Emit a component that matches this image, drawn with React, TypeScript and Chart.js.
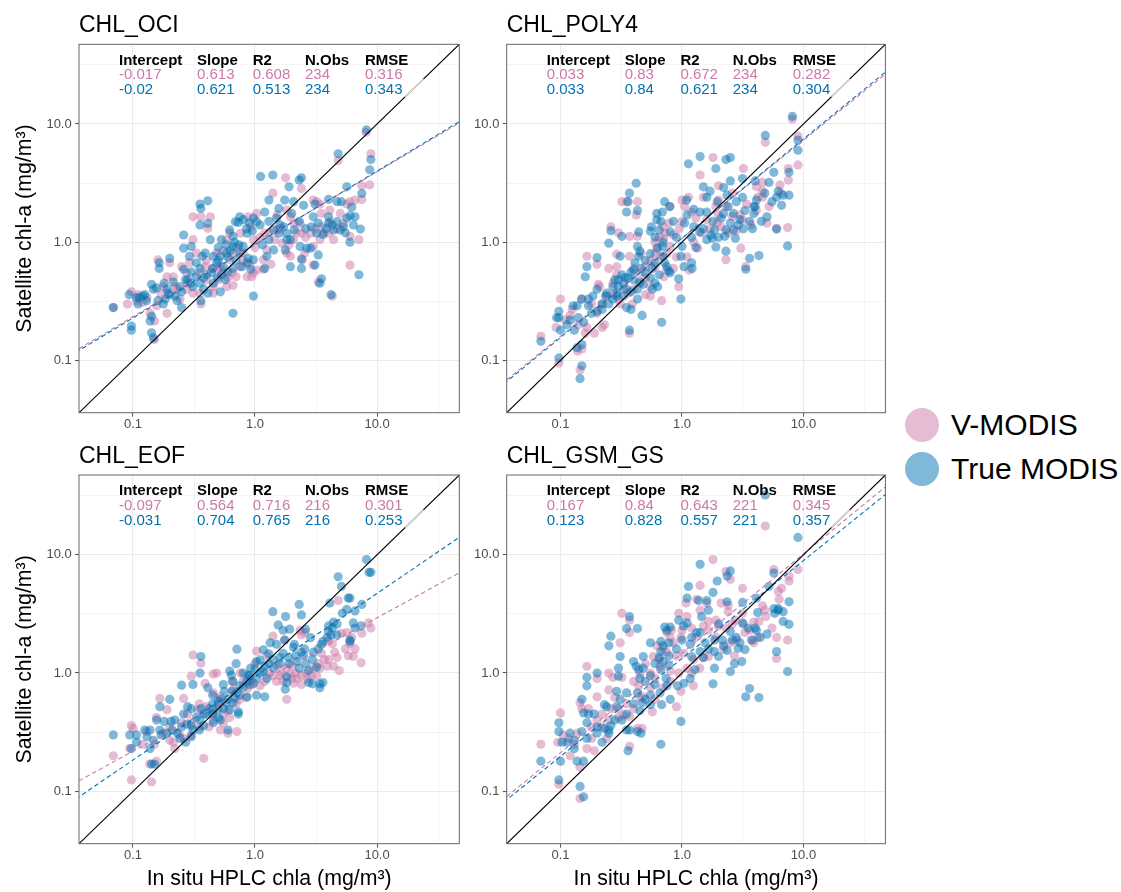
import React, { useEffect, useRef } from 'react';
import { Chart, registerables } from 'chart.js';

Chart.register(...registerables);

const FONT = "'Liberation Sans', Arial, Helvetica, sans-serif";
Chart.defaults.font.family = FONT;

// ---------- data ----------
const SERIES_NAMES = ['V-MODIS', 'True MODIS'];
const PANEL_TITLES = ['CHL_OCI', 'CHL_POLY4', 'CHL_EOF', 'CHL_GSM_GS'];
const X_TITLE = 'In situ HPLC chla (mg/m³)';
const Y_TITLE = 'Satellite chl-a (mg/m³)';

const AXIS_MIN = 0.0361;
const AXIS_MAX = 47.2;
const MAJOR_TICKS = [0.1, 1, 10];
const MAJOR_LABELS = ['0.1', '1.0', '10.0'];
const MINOR_TICKS = [0.3162, 3.162, 31.62];

const STAT_HEADERS = ['Intercept', 'Slope', 'R2', 'N.Obs', 'RMSE'];
const OCI_STATS_VM = ['-0.017', '0.613', '0.608', '234', '0.316'];
const OCI_STATS_TM = ['-0.02', '0.621', '0.513', '234', '0.343'];
const POLY4_STATS_VM = ['0.033', '0.83', '0.672', '234', '0.282'];
const POLY4_STATS_TM = ['0.033', '0.84', '0.621', '234', '0.304'];
const EOF_STATS_VM = ['-0.097', '0.564', '0.716', '216', '0.301'];
const EOF_STATS_TM = ['-0.031', '0.704', '0.765', '216', '0.253'];
const GSM_STATS_VM = ['0.167', '0.84', '0.643', '221', '0.345'];
const GSM_STATS_TM = ['0.123', '0.828', '0.557', '221', '0.357'];

const OCI_VM = [[8.1,8.5],[4.8,4.9],[8.9,5.6],[8.7,3.05],[1.78,3.5],[2.4,2.85],[1.4,2.6],[7.5,3.0],[7.5,2.3],[3.2,2.2],[6.0,2.2],[6.0,1.12],[7.1,1.05],[6.0,0.64],[3.0,2.27],[3.4,2.1],[1.82,1.87],[1.52,1.7],[1.03,1.75],[0.88,1.64],[0.76,1.19],[0.92,1.35],[0.8,0.81],[0.75,0.62],[0.455,0.42],[0.585,0.42],[0.66,0.43],[0.94,0.51],[1.03,0.58],[1.17,0.59],[1.25,0.86],[1.17,0.71],[1.95,1.64],[2.34,1.44],[2.07,1.05],[3.0,0.92],[3.5,1.35],[3.4,1.05],[3.5,1.75],[4.1,1.87],[4.1,1.49],[1.82,0.81],[1.95,0.76],[2.55,0.81],[3.0,0.64],[3.3,0.46],[4.3,0.35],[2.45,0.71],[0.069,0.28],[0.097,0.38],[0.09,0.3],[0.107,0.32],[0.16,0.71],[0.2,0.67],[0.177,0.42],[0.156,0.29],[0.19,0.25],[0.15,0.215],[0.15,0.15],[0.214,0.51],[0.23,0.4],[0.275,0.4],[0.243,0.33],[0.29,0.67],[0.31,1.05],[0.31,1.64],[0.36,1.64],[0.43,1.64],[0.41,1.31],[0.39,0.62],[0.485,0.81],[0.585,1.05],[0.354,0.37],[0.36,0.3],[0.455,0.37],[0.5,0.59],[0.52,0.62],[0.62,0.71],[0.7,0.51],[0.86,0.51],[0.97,0.55],[0.4,0.48],[0.31,0.37],[0.275,0.55],[0.19,0.51],[0.25,0.62],[0.33,0.81],[0.12,0.31],[0.138,0.25],[0.66,0.81],[1.52,1.27],[1.66,0.98],[2.07,1.44],[2.4,1.19],[2.85,1.19],[4.4,1.05],[5.0,1.75],[5.65,2.1],[6.6,2.27],[4.0,1.19],[1.2,1.19],[0.97,1.05],[0.5,0.48],[0.55,0.55],[0.6,0.5],[0.65,0.55],[0.8,0.7],[0.72,0.9],[0.62,1.2],[0.55,0.85],[0.45,0.6],[0.4,0.7],[0.35,0.55],[0.28,0.45],[0.22,0.42],[0.17,0.36],[0.13,0.34],[0.11,0.36],[1.0,0.9],[1.1,1.1],[1.3,1.2],[1.6,1.3],[2.2,1.2],[2.6,1.1],[3.1,1.3],[3.7,1.2],[4.7,1.3],[5.3,1.45],[1.45,1.05],[1.9,0.95],[0.9,0.65],[1.35,0.65]];
const OCI_TM = [[8.2,8.9],[4.8,5.6],[8.9,5.0],[8.7,4.1],[1.11,3.6],[1.4,3.7],[2.4,3.5],[2.3,3.35],[1.9,2.94],[5.65,2.94],[7.5,2.58],[4.0,2.3],[3.1,2.1],[4.7,2.2],[5.1,2.2],[6.2,1.97],[6.0,1.67],[6.6,1.64],[5.65,1.6],[6.4,1.4],[7.3,1.29],[6.0,1.0],[7.1,0.53],[1.75,2.27],[2.07,2.2],[2.5,2.05],[1.3,2.27],[1.57,1.93],[1.2,1.8],[1.03,1.49],[0.97,1.6],[0.75,1.64],[0.73,1.47],[0.69,1.49],[0.62,1.27],[0.66,1.12],[0.86,1.19],[0.74,0.95],[0.66,0.92],[0.88,0.73],[0.97,0.71],[0.66,0.6],[0.6,0.56],[0.53,0.53],[0.49,0.5],[0.92,0.59],[1.2,0.6],[1.25,0.76],[1.42,0.86],[0.97,0.35],[0.66,0.25],[2.1,1.27],[1.82,1.19],[1.57,1.19],[1.82,1.05],[2.34,0.92],[2.66,0.89],[3.2,1.19],[4.0,1.44],[4.4,1.27],[5.0,1.27],[3.6,1.16],[3.0,1.64],[4.0,1.64],[4.7,1.49],[1.95,0.62],[2.4,0.6],[1.77,0.86],[2.4,0.72],[2.85,0.89],[3.3,0.78],[3.1,0.64],[3.5,0.49],[3.4,0.45],[4.2,0.36],[0.069,0.28],[0.093,0.36],[0.107,0.34],[0.113,0.34],[0.125,0.36],[0.129,0.32],[0.142,0.44],[0.147,0.4],[0.156,0.41],[0.164,0.67],[0.164,0.6],[0.2,0.73],[0.19,0.4],[0.184,0.33],[0.16,0.32],[0.177,0.3],[0.142,0.236],[0.138,0.215],[0.097,0.195],[0.097,0.18],[0.142,0.171],[0.147,0.155],[0.214,0.46],[0.243,0.42],[0.26,0.59],[0.27,0.48],[0.31,0.42],[0.25,0.28],[0.23,0.32],[0.195,0.37],[0.28,0.48],[0.3,0.56],[0.26,0.89],[0.26,1.15],[0.29,0.76],[0.3,0.92],[0.354,2.1],[0.36,1.93],[0.41,2.24],[0.354,1.4],[0.41,1.44],[0.43,1.05],[0.39,0.81],[0.37,0.76],[0.33,0.67],[0.354,0.6],[0.4,0.53],[0.455,0.76],[0.485,0.67],[0.52,0.76],[0.53,1.05],[0.33,0.51],[0.354,0.45],[0.38,0.4],[0.36,0.32],[0.41,0.37],[0.52,0.38],[0.455,0.45],[0.57,0.48],[0.75,0.81],[0.86,0.67],[0.585,0.81],[1.42,1.27],[1.71,1.35],[1.95,1.05],[0.45,0.6],[0.5,0.7],[0.55,0.62],[0.6,0.75],[0.63,0.85],[0.7,0.7],[0.78,0.62],[0.8,0.92],[0.68,1.0],[0.58,0.95],[0.5,0.9],[0.44,0.55],[0.38,0.5],[0.3,0.45],[0.25,0.38],[0.22,0.35],[0.18,0.45],[0.2,0.36],[0.12,0.35],[0.11,0.3],[0.85,1.3],[0.95,1.25],[1.1,1.4],[1.3,1.5],[1.6,1.4],[2.3,1.5],[2.6,1.3],[2.9,1.35],[3.3,1.45],[3.8,1.3],[4.3,1.4],[5.3,1.35],[5.5,1.2],[1.15,0.95],[1.3,1.05],[0.9,1.45],[0.8,1.55],[1.5,1.6],[2.0,1.75]];

const POLY4_VM = [[8.1,11.0],[4.85,7.0],[9.0,7.9],[9.0,4.5],[1.8,5.2],[1.41,3.7],[3.2,4.2],[7.5,4.2],[7.5,3.35],[6.4,3.05],[4.6,3.2],[4.6,2.7],[4.1,2.95],[4.1,1.85],[4.6,2.4],[5.0,1.45],[6.0,1.31],[7.4,1.33],[2.0,2.27],[2.6,2.6],[2.0,3.0],[1.5,2.4],[1.13,2.4],[1.05,2.0],[1.0,2.27],[1.9,2.0],[2.3,2.0],[3.15,1.55],[2.1,1.35],[1.95,1.45],[0.95,1.3],[1.35,0.89],[1.15,0.58],[2.3,0.71],[3.05,0.89],[3.35,0.62],[0.8,2.0],[0.7,1.35],[0.73,1.2],[0.71,1.08],[0.78,1.45],[0.8,0.92],[0.75,0.8],[0.6,1.0],[0.66,0.76],[0.71,0.51],[0.5,0.5],[0.45,0.55],[0.46,0.8],[0.43,1.12],[0.37,0.76],[0.29,0.79],[0.26,1.35],[0.3,1.2],[0.37,1.12],[0.32,2.2],[0.35,2.2],[0.43,2.2],[0.42,1.7],[0.29,0.62],[0.29,0.53],[0.25,0.6],[0.36,0.37],[0.3,0.33],[0.31,0.3],[0.39,0.3],[0.21,0.42],[0.205,0.44],[0.165,0.76],[0.2,0.65],[0.18,0.3],[0.15,0.33],[0.125,0.27],[0.1,0.33],[0.092,0.19],[0.11,0.22],[0.165,0.19],[0.16,0.17],[0.19,0.17],[0.23,0.2],[0.22,0.19],[0.069,0.16],[0.097,0.095],[0.15,0.125],[0.138,0.12],[0.145,0.083],[0.37,0.17],[0.68,0.32],[0.94,0.42],[0.75,0.58],[0.85,0.6],[0.55,0.42],[0.5,0.36],[0.6,0.62],[0.62,0.9],[1.2,1.8],[1.6,1.55],[2.6,1.65],[3.4,2.1],[3.7,1.4],[2.8,1.25],[1.25,1.0],[1.1,0.75],[0.55,0.35],[0.27,0.45],[0.24,0.35],[0.12,0.24],[0.5,0.62],[0.55,0.7],[0.45,0.45],[0.4,0.4],[0.33,0.4],[0.27,0.36],[0.22,0.3],[0.2,0.25],[0.14,0.2],[0.6,0.8],[0.65,1.1],[0.85,1.15],[1.0,1.5],[1.3,1.6],[1.45,1.2],[1.7,1.3],[2.4,1.2],[3.0,1.7],[4.2,2.4],[5.2,2.0],[6.5,2.6],[2.0,1.7],[0.9,0.75],[0.4,0.6]];
const POLY4_TM = [[8.1,11.6],[4.85,8.0],[9.0,7.3],[9.0,6.0],[1.41,5.3],[1.13,4.6],[1.9,4.2],[2.3,5.0],[2.5,5.2],[5.7,3.9],[7.6,3.9],[6.2,2.7],[6.0,2.4],[6.8,2.5],[7.6,2.5],[6.6,2.05],[5.2,3.2],[4.0,3.3],[4.1,2.27],[4.0,2.0],[5.0,1.64],[6.0,1.29],[7.4,0.93],[3.15,3.45],[3.15,2.4],[2.5,3.3],[2.2,2.9],[2.35,2.5],[1.5,2.94],[1.7,2.7],[1.6,2.4],[1.09,2.27],[1.41,1.8],[1.6,1.8],[2.2,1.75],[2.65,1.75],[3.3,1.85],[3.9,2.0],[3.9,1.75],[3.0,1.55],[2.65,1.27],[2.75,1.08],[2.3,1.27],[2.25,1.12],[1.8,1.5],[1.85,1.27],[1.72,1.15],[1.78,1.08],[1.9,0.91],[1.4,1.22],[1.25,1.35],[1.05,1.45],[1.3,0.9],[1.0,0.92],[0.98,0.76],[1.04,0.62],[1.2,0.67],[1.21,0.6],[2.3,0.84],[3.6,0.73],[4.3,0.77],[3.35,0.59],[0.62,1.75],[0.69,1.8],[0.72,2.2],[0.79,2.0],[0.67,1.5],[0.62,1.55],[0.56,1.35],[0.65,1.27],[0.8,1.22],[0.69,0.92],[0.63,0.89],[0.6,0.67],[0.57,0.6],[0.75,0.62],[0.78,0.57],[0.65,0.53],[0.6,0.45],[0.63,0.42],[0.57,0.4],[0.48,0.44],[0.44,0.76],[0.45,0.84],[0.41,0.67],[0.46,0.6],[0.4,0.48],[0.36,0.5],[0.38,0.56],[0.43,0.4],[0.55,1.24],[0.44,1.22],[0.43,0.92],[0.31,0.76],[0.26,1.25],[0.25,0.98],[0.32,1.12],[0.37,2.6],[0.36,2.2],[0.35,1.8],[0.43,1.85],[0.42,3.15],[0.28,0.48],[0.3,0.48],[0.32,0.53],[0.34,0.5],[0.35,0.4],[0.27,0.42],[0.29,0.35],[0.29,0.37],[0.33,0.35],[0.35,0.28],[0.38,0.27],[0.47,0.24],[0.43,0.33],[0.24,0.37],[0.235,0.35],[0.2,0.4],[0.2,0.74],[0.165,0.62],[0.16,0.51],[0.17,0.33],[0.185,0.35],[0.2,0.26],[0.22,0.3],[0.17,0.29],[0.149,0.33],[0.137,0.29],[0.127,0.29],[0.12,0.22],[0.113,0.2],[0.097,0.26],[0.097,0.23],[0.093,0.23],[0.1,0.18],[0.13,0.18],[0.155,0.21],[0.069,0.145],[0.097,0.105],[0.137,0.128],[0.15,0.136],[0.15,0.09],[0.145,0.07],[0.37,0.18],[0.68,0.21],[0.98,0.33],[0.94,0.49],[0.8,0.55],[0.72,0.67],[0.7,0.76],[2.1,1.6],[2.4,2.0],[1.95,2.2],[3.6,1.5],[4.5,1.5],[2.9,1.4],[0.5,0.7],[0.55,0.8],[0.5,0.55],[0.55,0.5],[0.4,0.58],[0.33,0.45],[0.3,0.42],[0.25,0.3],[0.27,0.33],[0.22,0.27],[0.18,0.25],[0.14,0.23],[0.6,1.1],[0.7,1.0],[0.85,1.5],[0.9,1.1],[1.1,1.7],[1.25,1.9],[1.5,1.3],[1.6,1.05],[2.0,1.1],[2.5,1.45],[3.2,1.3],[3.8,1.3],[4.8,2.6],[5.5,2.2],[2.8,2.2],[1.2,1.1],[0.38,0.38],[0.45,0.46]];

const EOF_VM = [[4.8,4.1],[8.5,2.65],[8.9,2.4],[7.5,2.17],[5.65,2.2],[5.1,2.17],[4.0,1.87],[4.3,1.77],[6.0,1.77],[6.6,1.6],[5.8,1.4],[6.4,1.38],[7.4,1.22],[4.9,1.05],[4.4,1.14],[3.9,1.14],[3.5,1.47],[3.4,1.1],[1.4,2.05],[1.75,1.9],[1.03,1.53],[1.25,1.4],[1.52,1.15],[1.66,1.0],[1.95,0.98],[2.15,1.0],[2.4,0.8],[1.82,0.6],[2.55,2.2],[2.4,2.1],[2.34,2.3],[3.0,1.1],[1.61,0.95],[2.07,0.82],[1.1,0.78],[0.92,0.9],[0.76,1.0],[0.88,0.75],[0.66,0.72],[0.52,0.63],[0.485,1.0],[0.455,0.98],[0.31,1.42],[0.36,1.21],[0.3,0.94],[0.39,0.82],[0.455,0.68],[0.4,0.52],[0.34,0.49],[0.455,0.4],[0.52,0.33],[0.6,0.31],[0.71,0.32],[0.62,0.42],[0.26,0.61],[0.25,0.38],[0.19,0.49],[0.166,0.61],[0.156,0.42],[0.177,0.31],[0.214,0.26],[0.22,0.23],[0.13,0.32],[0.1,0.34],[0.097,0.36],[0.094,0.23],[0.069,0.2],[0.097,0.125],[0.142,0.12],[0.137,0.17],[0.156,0.18],[0.38,0.19],[1.8,1.1],[2.0,1.15],[2.6,1.0],[2.9,0.95],[3.2,0.95],[2.2,0.9],[1.3,1.0],[1.5,0.85],[0.55,0.45],[0.5,0.55],[0.35,0.55],[0.28,0.45],[0.24,0.3],[0.3,0.38],[0.12,0.25],[0.2,0.35],[0.7,0.55],[0.85,0.62],[4.5,1.5],[5.5,1.6],[3.7,1.3],[0.6,0.48],[0.55,0.38],[0.45,0.45],[0.42,0.35],[0.35,0.35],[0.3,0.3],[0.26,0.28],[0.2,0.27],[0.15,0.25],[0.8,0.85],[0.95,0.8],[1.2,0.85],[1.4,0.95],[1.7,0.85],[2.0,0.9],[2.4,0.95],[2.7,0.9],[3.3,1.2],[4.0,1.3],[4.7,1.35],[6.2,2.0],[0.65,0.85],[0.75,0.6],[1.0,1.2]];
const EOF_TM = [[8.2,9.1],[8.9,7.1],[8.6,7.1],[4.8,6.5],[5.1,5.4],[4.1,3.9],[5.8,4.3],[6.0,4.3],[5.65,3.45],[6.6,3.35],[7.5,3.8],[6.4,2.65],[6.6,2.4],[6.0,1.9],[6.0,1.85],[7.4,2.5],[4.4,2.7],[4.7,2.6],[4.0,2.5],[4.0,2.25],[4.2,2.1],[3.6,1.85],[3.5,1.75],[4.7,2.1],[1.4,3.3],[2.3,3.8],[2.4,3.1],[1.78,3.0],[1.55,2.55],[1.7,2.3],[1.92,2.35],[2.6,2.35],[2.85,1.99],[1.33,1.8],[1.17,1.57],[1.75,1.9],[2.07,1.65],[2.4,1.5],[2.5,1.4],[2.15,1.4],[1.88,1.35],[1.7,1.47],[1.6,1.35],[1.42,1.1],[1.1,1.29],[1.03,1.25],[1.0,1.08],[1.17,1.03],[0.92,1.1],[0.88,0.96],[1.03,0.91],[0.97,0.82],[1.03,0.65],[1.2,0.63],[2.95,1.3],[3.2,1.12],[2.75,1.05],[2.3,1.1],[1.82,0.93],[1.82,0.83],[1.77,0.73],[2.75,0.83],[2.95,0.81],[3.4,0.81],[3.6,0.83],[3.4,0.75],[0.71,1.59],[0.62,1.04],[0.64,0.96],[0.66,0.85],[0.71,0.68],[0.86,0.63],[0.75,0.78],[0.58,0.56],[0.66,0.56],[0.52,0.6],[0.62,0.49],[0.73,0.45],[0.73,0.47],[0.6,0.33],[0.52,0.4],[0.455,0.38],[0.41,0.75],[0.354,1.0],[0.36,1.38],[0.31,0.8],[0.25,0.79],[0.28,0.52],[0.275,0.37],[0.31,0.33],[0.354,0.4],[0.38,0.36],[0.455,0.49],[0.2,0.6],[0.166,0.52],[0.156,0.4],[0.18,0.39],[0.205,0.39],[0.166,0.33],[0.138,0.33],[0.125,0.33],[0.107,0.3],[0.094,0.3],[0.069,0.3],[0.107,0.26],[0.097,0.23],[0.147,0.27],[0.138,0.23],[0.15,0.17],[0.142,0.17],[0.19,0.31],[0.23,0.31],[0.243,0.28],[0.27,0.26],[0.3,0.29],[0.5,0.5],[0.45,0.55],[0.4,0.45],[0.33,0.42],[0.3,0.5],[0.56,0.7],[0.8,0.75],[0.9,0.8],[1.3,1.2],[1.25,0.9],[0.45,0.65],[0.22,0.4],[0.26,0.45],[0.36,0.5],[2.1,1.75],[2.55,1.6],[1.5,1.75],[4.3,2.4],[5.2,3.2],[0.7,1.2],[0.8,1.0],[0.5,0.42],[0.45,0.45],[0.42,0.5],[0.55,0.5],[0.6,0.6],[0.65,0.7],[0.75,0.65],[0.85,0.85],[0.9,0.95],[0.68,0.62],[0.35,0.33],[0.3,0.36],[0.25,0.35],[0.21,0.33],[0.17,0.3],[0.13,0.29],[1.1,1.0],[1.2,1.15],[1.4,1.3],[1.6,1.2],[1.9,1.2],[2.2,1.25],[2.6,1.2],[3.0,1.5],[3.3,1.6],[3.9,2.0],[1.3,1.45],[0.55,0.8],[0.5,0.58],[0.38,0.45]];

const GSM_VM = [[4.85,17.5],[1.8,9.1],[1.41,5.5],[2.3,7.2],[2.5,6.2],[3.15,5.2],[5.7,7.5],[9.0,7.5],[7.6,6.6],[7.6,6.0],[6.6,5.2],[6.2,4.9],[6.3,4.2],[7.4,1.9],[6.0,2.0],[6.0,1.33],[4.6,3.7],[4.8,3.4],[4.3,2.73],[3.9,2.7],[3.15,3.2],[2.75,2.8],[2.4,3.3],[2.4,3.75],[2.1,3.9],[1.6,3.9],[1.32,4.2],[1.08,3.9],[0.94,3.2],[1.1,3.0],[1.41,3.4],[1.65,2.73],[1.65,2.3],[1.9,2.02],[2.5,1.8],[3.7,1.9],[3.9,1.8],[1.65,1.38],[1.5,1.35],[1.24,1.3],[1.03,1.47],[0.98,2.0],[0.8,2.0],[0.82,2.3],[0.75,2.2],[0.62,1.7],[0.58,1.38],[0.66,1.14],[0.8,1.04],[0.94,1.0],[1.24,0.78],[0.98,0.7],[0.9,0.52],[0.57,0.47],[0.48,0.63],[0.44,0.78],[0.4,0.85],[0.45,0.98],[0.32,0.92],[0.27,0.92],[0.25,1.0],[0.25,0.72],[0.31,1.8],[0.37,2.2],[0.32,3.2],[0.37,2.8],[0.2,0.9],[0.165,1.14],[0.2,0.63],[0.145,0.56],[0.15,0.5],[0.17,0.5],[0.22,0.45],[0.2,0.4],[0.37,0.43],[0.33,0.44],[0.43,0.34],[0.47,0.34],[0.37,0.24],[0.24,0.28],[0.18,0.28],[0.165,0.23],[0.19,0.22],[0.137,0.31],[0.117,0.28],[0.105,0.3],[0.095,0.26],[0.1,0.46],[0.069,0.25],[0.097,0.115],[0.145,0.087],[0.145,0.16],[2.0,2.5],[2.2,1.6],[2.8,1.9],[3.3,2.2],[4.2,2.0],[3.6,2.3],[1.2,2.4],[0.7,1.6],[0.6,0.9],[0.55,0.75],[0.35,0.55],[0.3,0.5],[0.28,0.62],[0.5,1.2],[0.9,1.4],[1.1,1.1],[2.7,1.4],[4.9,3.0],[5.5,2.4],[0.55,1.0],[0.65,1.3],[0.75,1.5],[0.85,1.8],[1.0,2.3],[1.3,2.0],[1.5,2.5],[1.9,2.8],[2.3,2.4],[2.6,2.6],[3.2,2.6],[0.45,0.62],[0.4,0.5],[0.3,0.42],[0.25,0.4],[0.22,0.35],[0.26,0.5],[0.6,0.6],[0.7,0.75],[0.8,0.85],[1.2,1.0],[1.4,1.1],[0.18,0.35],[0.13,0.25],[0.12,0.2]];
const GSM_TM = [[9.0,14.0],[4.85,32],[1.41,8.3],[2.5,7.3],[2.35,6.6],[1.95,6.0],[1.13,5.4],[1.1,4.3],[1.8,4.8],[1.37,4.1],[1.6,4.1],[1.65,3.4],[2.35,4.0],[3.15,3.95],[4.1,4.3],[4.2,3.25],[5.7,3.5],[5.7,7.0],[5.2,5.4],[7.6,4.0],[6.2,3.4],[6.8,3.3],[6.2,3.5],[6.8,2.73],[7.6,2.58],[6.0,1.52],[7.4,1.03],[2.5,2.25],[2.6,1.9],[3.0,1.8],[2.9,1.62],[2.15,1.9],[1.85,1.9],[3.15,2.65],[3.5,2.4],[4.0,2.4],[4.1,2.3],[5.0,2.13],[3.3,1.58],[3.1,1.25],[2.7,1.2],[2.5,1.03],[3.6,0.74],[3.35,0.63],[4.3,0.62],[1.85,1.52],[2.0,1.38],[1.85,1.1],[1.8,0.81],[2.35,1.55],[1.32,2.2],[1.41,2.2],[1.55,1.8],[1.1,2.65],[1.03,2.5],[0.94,2.8],[1.17,1.75],[1.41,1.52],[1.2,1.38],[1.28,1.07],[1.17,0.9],[1.04,0.82],[0.92,0.78],[0.98,0.39],[0.72,2.45],[0.8,2.45],[0.75,2.3],[0.67,1.85],[0.78,1.8],[0.7,1.7],[0.67,1.52],[0.78,1.4],[0.78,1.17],[0.67,1.07],[0.74,0.9],[0.75,0.78],[0.66,0.68],[0.55,1.8],[0.48,1.38],[0.48,1.1],[0.44,1.07],[0.42,1.14],[0.4,1.25],[0.45,0.9],[0.5,0.85],[0.55,0.65],[0.47,0.56],[0.55,0.54],[0.68,0.54],[0.43,0.68],[0.35,0.68],[0.29,0.7],[0.29,0.52],[0.31,0.6],[0.35,0.33],[0.37,0.33],[0.43,0.32],[0.46,0.31],[0.36,0.22],[0.67,0.25],[0.35,2.38],[0.43,2.38],[0.37,3.0],[0.26,2.05],[0.25,1.7],[0.31,1.38],[0.3,1.1],[0.3,0.94],[0.2,1.0],[0.165,0.92],[0.165,0.78],[0.15,0.6],[0.155,0.46],[0.17,0.45],[0.165,0.38],[0.2,0.31],[0.19,0.45],[0.23,0.54],[0.24,0.52],[0.23,0.34],[0.25,0.33],[0.25,0.31],[0.22,0.26],[0.165,0.28],[0.13,0.23],[0.12,0.31],[0.113,0.26],[0.097,0.38],[0.097,0.32],[0.103,0.26],[0.069,0.18],[0.1,0.18],[0.097,0.125],[0.145,0.11],[0.155,0.09],[0.137,0.18],[0.155,0.18],[0.55,0.95],[0.6,1.2],[0.65,1.35],[0.7,1.25],[0.9,1.6],[1.0,1.9],[1.5,1.35],[1.65,1.6],[2.2,1.7],[2.8,2.0],[3.8,1.9],[4.4,2.0],[0.5,0.6],[0.6,0.8],[0.35,0.45],[0.32,0.4],[0.28,0.4],[0.26,0.36],[0.4,0.55],[0.45,0.48],[0.2,0.35],[0.15,0.32],[0.13,0.27],[0.8,0.6],[1.2,2.0],[1.45,3.0],[2.0,2.6],[5.8,3.2]];

// ---------- styles / layout ----------
const PINK = '#CC79A7';
const BLUE = '#0072B2';
const PINK_FILL = 'rgba(204,121,167,0.5)';
const BLUE_FILL = 'rgba(0,114,178,0.5)';
const STAT_COLS = [40, 118, 173.7, 226, 286];
const STAT_ROWS = [20.2, 34.9, 49.9];
const FADED_SPAN = [17, 24]; // faded stretch of the 1:1 line behind the stats label
const DASH = [4.5, 3];

type PanelCfg = {
  title: string; vm: number[][]; tm: number[][]; statsVm: string[]; statsTm: string[];
  left: number; top: number; width: number; height: number;
  pad: { left: number; right: number; top: number; bottom: number };
  yWidth: number; xHeight: number; showY: boolean; showX: boolean;
};

const PANELS: PanelCfg[] = [
  { title: PANEL_TITLES[0], vm: OCI_VM, tm: OCI_TM, statsVm: OCI_STATS_VM, statsTm: OCI_STATS_TM,
    left: 0, top: 0, width: 470, height: 437, pad: { left: 12.8, right: 10.7, top: 44.3, bottom: 0 },
    yWidth: 66.2, xHeight: 24.3, showY: true, showX: false },
  { title: PANEL_TITLES[1], vm: POLY4_VM, tm: POLY4_TM, statsVm: POLY4_STATS_VM, statsTm: POLY4_STATS_TM,
    left: 470, top: 0, width: 420, height: 437, pad: { left: 0, right: 2.7, top: 44.3, bottom: 0 },
    yWidth: 36.7, xHeight: 24.3, showY: false, showX: false },
  { title: PANEL_TITLES[2], vm: EOF_VM, tm: EOF_TM, statsVm: EOF_STATS_VM, statsTm: EOF_STATS_TM,
    left: 0, top: 437, width: 470, height: 455, pad: { left: 12.8, right: 10.7, top: 38, bottom: 0 },
    yWidth: 66.2, xHeight: 48.3, showY: true, showX: true },
  { title: PANEL_TITLES[3], vm: GSM_VM, tm: GSM_TM, statsVm: GSM_STATS_VM, statsTm: GSM_STATS_TM,
    left: 470, top: 437, width: 420, height: 455, pad: { left: 0, right: 2.7, top: 38, bottom: 0 },
    yWidth: 36.7, xHeight: 48.3, showY: false, showX: true },
];

const ALL_TICKS = [...MAJOR_TICKS, ...MINOR_TICKS].sort((a, b) => a - b);
const isMajor = (v: number) => MAJOR_TICKS.some((t) => Math.abs(t - v) / t < 1e-6);
const tickLabel = (v: number) => {
  const i = MAJOR_TICKS.findIndex((t) => Math.abs(t - v) / t < 1e-6);
  return i >= 0 ? MAJOR_LABELS[i] : '';
};

const fitLine = (stats: string[]) => {
  const a = parseFloat(stats[0]);
  const b = parseFloat(stats[1]);
  return [AXIS_MIN, AXIS_MAX].map((x) => ({ x, y: Math.pow(10, a + b * Math.log10(x)) }));
};

function axisOptions(isX: boolean, cfg: PanelCfg) {
  return {
    type: 'logarithmic',
    position: isX ? 'bottom' : 'left',
    min: AXIS_MIN,
    max: AXIS_MAX,
    bounds: 'data',
    afterBuildTicks: (s: any) => {
      s.ticks = ALL_TICKS.map((v) => ({ value: v }));
    },
    afterFit: (s: any) => {
      if (isX) s.height = cfg.xHeight;
      else s.width = cfg.yWidth;
    },
    ticks: {
      autoSkip: false,
      maxRotation: 0,
      minRotation: 0,
      padding: isX ? 0 : 3.3,
      color: '#4D4D4D',
      font: { size: 13, family: FONT },
      callback: (v: any) => tickLabel(Number(v)),
    },
    grid: {
      color: '#EBEBEB',
      lineWidth: (c: any) => (c.tick && isMajor(c.tick.value) ? 1.1 : 0.55),
      drawTicks: true,
      tickLength: 4,
      tickWidth: 1,
      tickColor: (c: any) => (c.tick && isMajor(c.tick.value) ? '#555555' : 'rgba(0,0,0,0)'),
    },
    border: { display: false },
    title: {
      display: isX ? cfg.showX : cfg.showY,
      text: isX ? X_TITLE : Y_TITLE,
      color: '#000',
      font: { size: 21.3, family: FONT },
      padding: 0,
    },
  };
}

function decoPlugin(cfg: PanelCfg) {
  return {
    id: 'panelDeco',
    afterDatasetsDraw(chart: any) {
      const { ctx, chartArea: a, scales } = chart;
      ctx.save();
      // faded stretch of the 1:1 line
      ctx.strokeStyle = '#dcdcdc';
      ctx.lineWidth = 1.6;
      ctx.beginPath();
      ctx.moveTo(scales.x.getPixelForValue(FADED_SPAN[0]), scales.y.getPixelForValue(FADED_SPAN[0]));
      ctx.lineTo(scales.x.getPixelForValue(FADED_SPAN[1]), scales.y.getPixelForValue(FADED_SPAN[1]));
      ctx.stroke();
      ctx.textBaseline = 'alphabetic';
      ctx.textAlign = 'left';
      const rows = [
        { texts: STAT_HEADERS, color: '#000', font: `bold 15px ${FONT}` },
        { texts: cfg.statsVm, color: PINK, font: `15px ${FONT}` },
        { texts: cfg.statsTm, color: BLUE, font: `15px ${FONT}` },
      ];
      rows.forEach((r, ri) => {
        ctx.font = r.font;
        ctx.fillStyle = r.color;
        r.texts.forEach((t, ci) => ctx.fillText(t, a.left + STAT_COLS[ci], a.top + STAT_ROWS[ri]));
      });
      ctx.restore();
    },
    afterDraw(chart: any) {
      const { ctx, chartArea: a } = chart;
      ctx.save();
      ctx.strokeStyle = '#666666';
      ctx.lineWidth = 1;
      ctx.strokeRect(a.left, a.top, a.right - a.left, a.bottom - a.top);
      ctx.font = `23px ${FONT}`;
      ctx.fillStyle = '#000';
      ctx.textBaseline = 'alphabetic';
      ctx.textAlign = 'left';
      ctx.fillText(cfg.title, a.left, a.top - 12.3);
      ctx.restore();
    },
  };
}

function Panel({ cfg }: { cfg: PanelCfg }) {
  const ref = useRef<HTMLCanvasElement>(null);
  useEffect(() => {
    if (!ref.current) return;
    const chart = new Chart(ref.current, {
      type: 'scatter',
      data: {
        datasets: [
          { label: '1:1', data: [{ x: AXIS_MIN, y: AXIS_MIN }, { x: AXIS_MAX, y: AXIS_MAX }], showLine: true,
            borderColor: '#000', borderWidth: 1.1, pointRadius: 0, order: 0 },
          { label: SERIES_NAMES[1] + ' fit', data: fitLine(cfg.statsTm), showLine: true, borderColor: BLUE,
            borderWidth: 1.1, borderDash: DASH, borderDashOffset: 3.75, pointRadius: 0, order: 0 },
          { label: SERIES_NAMES[0] + ' fit', data: fitLine(cfg.statsVm), showLine: true, borderColor: PINK,
            borderWidth: 1.1, borderDash: DASH, pointRadius: 0, order: 0 },
          { label: SERIES_NAMES[1], data: cfg.tm.map(([x, y]) => ({ x, y })), backgroundColor: BLUE_FILL,
            pointBackgroundColor: BLUE_FILL, borderWidth: 0, pointBorderWidth: 0, pointRadius: 4.6, order: 1 },
          { label: SERIES_NAMES[0], data: cfg.vm.map(([x, y]) => ({ x, y })), backgroundColor: PINK_FILL,
            pointBackgroundColor: PINK_FILL, borderWidth: 0, pointBorderWidth: 0, pointRadius: 4.6, order: 2 },
        ] as any,
      },
      options: {
        responsive: false,
        animation: false,
        devicePixelRatio: 1,
        events: [],
        layout: { padding: cfg.pad },
        plugins: { legend: { display: false }, tooltip: { enabled: false }, title: { display: false } },
        scales: { x: axisOptions(true, cfg) as any, y: axisOptions(false, cfg) as any },
      },
      plugins: [decoPlugin(cfg)],
    });
    return () => chart.destroy();
  }, [cfg]);
  return (
    <canvas
      ref={ref}
      width={cfg.width}
      height={cfg.height}
      style={{ position: 'absolute', left: cfg.left, top: cfg.top, width: cfg.width, height: cfg.height }}
    />
  );
}

export default function App() {
  const legendText = { position: 'absolute' as const, left: 951, fontSize: 30, lineHeight: '30px', fontFamily: FONT, color: '#000', whiteSpace: 'nowrap' as const };
  const dot = { position: 'absolute' as const, left: 905.3, width: 34, height: 34, borderRadius: '50%' };
  return (
    <div style={{ position: 'fixed', left: 0, top: 0, width: 1121, height: 892, background: '#fff', overflow: 'hidden' }}>
      {PANELS.map((p) => (
        <Panel key={p.title} cfg={p} />
      ))}
      <div style={{ ...dot, top: 408, background: PINK_FILL }} />
      <div style={{ ...legendText, top: 410.1 }}>{SERIES_NAMES[0]}</div>
      <div style={{ ...dot, top: 452, background: BLUE_FILL }} />
      <div style={{ ...legendText, top: 453.9 }}>{SERIES_NAMES[1]}</div>
    </div>
  );
}
